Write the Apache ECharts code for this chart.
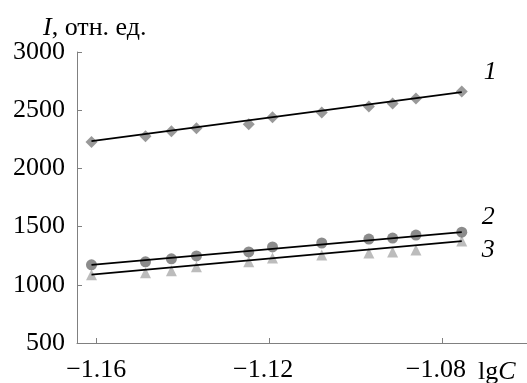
<!DOCTYPE html>
<html><head><meta charset="utf-8">
<script src="https://cdn.jsdelivr.net/npm/echarts@6/dist/echarts.min.js"></script>
<style>html,body{margin:0;padding:0;background:#fff}#c{width:527px;height:383px}</style>
</head><body><div id="c"></div>
<script>
const lgC = [-1.1611, -1.1486, -1.1426, -1.1368, -1.1247, -1.1192, -1.1078, -1.0969, -1.0914, -1.0860, -1.0754];
const series1 = [2226, 2277, 2320, 2345, 2379, 2439, 2481, 2532, 2558, 2600, 2660];
const series2 = [1172, 1197, 1223, 1248, 1282, 1325, 1359, 1393, 1401, 1427, 1452];
const series3 = [1087, 1104, 1121, 1155, 1197, 1231, 1257, 1274, 1282, 1299, 1376];
const fitX = [-1.1611, -1.0754];
const fit1 = [2234, 2656];
const fit2 = [1172, 1452];
const fit3 = [1087, 1376];
const xTicks = [-1.16, -1.12, -1.08];
const curveNames = ['1', '2', '3'];

const FONT = 'Liberation Serif';
const FS = 26;
const pts = (ys) => lgC.map((x, i) => [x, ys[i]]);
const fitPts = (ys) => fitX.map((x, i) => [x, ys[i]]);
const fitLine = (ys, name, off) => ({
  type: 'line', data: fitPts(ys), symbol: 'none', z: 5,
  lineStyle: {color: '#000', width: 1.7},
  endLabel: {show: true, formatter: name, distance: 0, offset: off,
    fontFamily: FONT, fontStyle: 'italic', fontSize: FS, color: '#000'}
});

const chart = echarts.init(document.getElementById('c'));
chart.setOption({
  animation: false,
  textStyle: {fontFamily: FONT},
  grid: {left: 77, top: 52, right: 0, bottom: 37},
  xAxis: {
    type: 'value', min: -1.16445, max: -1.0603,
    axisLine: {lineStyle: {color: '#808080', width: 1}},
    axisTick: {inside: true, length: 5, lineStyle: {color: '#808080'}, customValues: xTicks},
    axisLabel: {customValues: xTicks, fontFamily: FONT, fontSize: FS, color: '#000', margin: 14,
      formatter: v => (Math.abs(v - xTicks[0]) < 1e-6 ? '{a|' : '{b|') + '\u2212' + Math.abs(v).toFixed(2) + '}',
      rich: {
        a: {fontFamily: FONT, fontSize: FS, color: '#000'},
        b: {fontFamily: FONT, fontSize: FS, color: '#000', padding: [0, 12, 0, 0]}
      }},
    splitLine: {show: false}
  },
  yAxis: {
    type: 'value', min: 500, max: 3000, interval: 500,
    axisLine: {show: true, lineStyle: {color: '#808080', width: 1}},
    axisTick: {show: true, inside: true, length: 5, lineStyle: {color: '#808080'}},
    axisLabel: {fontFamily: FONT, fontSize: FS, color: '#000', margin: 12, formatter: v => String(v)},
    splitLine: {show: false}
  },
  graphic: [
    {type: 'text', left: 43, top: 15, style: {
      text: '{i|I}, отн. ед.', fontFamily: FONT, fontSize: FS, fill: '#000',
      rich: {i: {fontStyle: 'italic', fontFamily: FONT, fontSize: FS}}}},
    {type: 'text', left: 478, top: 359, style: {
      text: 'lg{i|C}', fontFamily: FONT, fontSize: FS, fill: '#000',
      rich: {i: {fontStyle: 'italic', fontFamily: FONT, fontSize: FS}}}}
  ],
  series: [
    {type: 'scatter', data: pts(series1), symbol: 'diamond', symbolSize: 12,
      itemStyle: {color: '#7f7f7f'}, z: 2},
    {type: 'scatter', data: pts(series3), symbol: 'triangle', symbolSize: 11,
      itemStyle: {color: '#ababab'}, z: 2},
    {type: 'scatter', data: pts(series2), symbol: 'circle', symbolSize: 11,
      itemStyle: {color: '#6f6f6f'}, z: 3},
    fitLine(fit1, curveNames[0], [22, -20]),
    fitLine(fit2, curveNames[1], [20, -15]),
    fitLine(fit3, curveNames[2], [20, 9])
  ]
});
</script></body></html>
